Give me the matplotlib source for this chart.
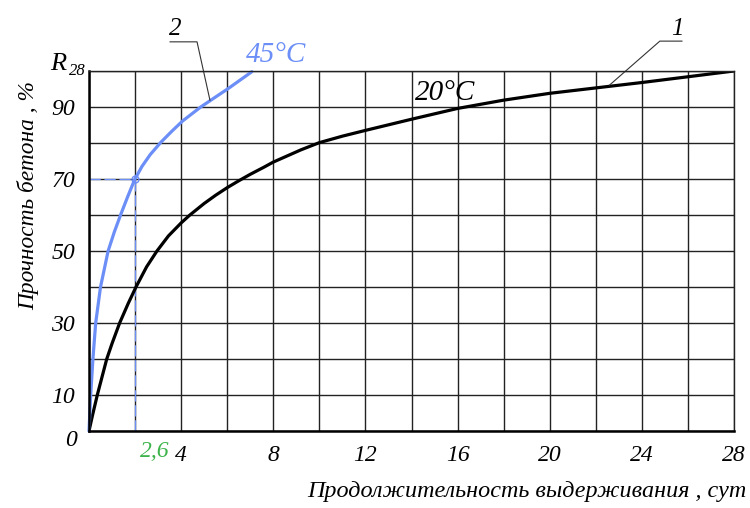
import numpy as np
import matplotlib
matplotlib.use('Agg')
import matplotlib.pyplot as plt

# curve 1 : 20 C  (days, % of R28)
t_20 = [0, 0.15, 0.36, 0.77, 1.0, 1.33, 1.7, 2.04, 2.5, 2.95, 3.45, 4.0, 4.38, 5.0, 5.5, 6.0, 6.5, 7.0,
        7.6, 8.0, 9.2, 10.0, 11.0, 12.0, 14.0, 16.0, 18.0, 20.0, 22.0, 24.0, 26.0, 28.0]
r_20 = [0, 4.3, 10, 20, 24.3, 30, 35.4, 40, 45.6, 50, 54.2, 57.8, 60, 63.2, 65.5, 67.6, 69.5, 71.3,
        73.3, 74.7, 78.1, 80.1, 81.9, 83.5, 86.6, 89.6, 91.9, 93.8, 95.3, 96.8, 98.4, 100]

# curve 2 : 45 C
t_45 = [0, 0.07, 0.17, 0.29, 0.5, 0.83, 1.1, 1.37, 1.68, 1.98, 2.3, 2.66, 3.12, 3.6, 4.06, 4.85, 5.5, 6.06, 7.07]
r_45 = [0, 9.7, 20, 30, 40, 50, 55.3, 60, 65.1, 69.8, 73.5, 76.8, 80.2, 83.3, 86.1, 90, 92.8, 95.2, 99.8]

t70 = 2.0    # where curve 2 reaches 70 % on the drawing
r70 = 70
t70_label = '2,6'

xgrid = np.arange(0, 29, 2)
ygrid = np.arange(0, 101, 10)
xlabels = ['4', '8', '12', '16', '20', '24', '28']
ylabels = ['10', '30', '50', '70', '90']

blue = '#6b8ef7'
green = '#3cb44b'
plt.rcParams['font.family'] = 'Liberation Serif'
plt.rcParams['font.style'] = 'italic'

fig = plt.figure(figsize=(7.5, 5.08), dpi=100)
ax = fig.add_axes([89/750, 1-431/508, (734-89)/750, (431-71)/508])

ax.set_xlim(0, 28)
ax.set_ylim(0, 100)
ax.set_xticks(xgrid)
ax.set_xticklabels([l if l in xlabels else '' for l in [str(v) for v in xgrid]])
ax.set_yticks(ygrid)
ax.set_yticklabels([l if l in ylabels else '' for l in [str(v) for v in ygrid]])
ax.tick_params(length=0, labelsize=17, pad=10)
for lab in ax.get_xticklabels() + ax.get_yticklabels():
    lab.set_fontstyle('italic')
ax.grid(True, color='#222222', lw=1.0)
ax.set_axisbelow(True)
for s in ['top', 'right']:
    ax.spines[s].set_linewidth(1.0)
    ax.spines[s].set_color('#222222')
for s in ['left', 'bottom']:
    ax.spines[s].set_linewidth(1.8)

# dashed guide to 70 %
ax.plot([0, t70], [r70, r70], color=blue, lw=0.9, dashes=(9, 3))
ax.plot([t70, t70], [0, r70], color=blue, lw=0.9, dashes=(9, 3))
ax.plot([t70], [r70], 'o', mfc='none', mec=blue, ms=5, mew=1)

ax.plot(t_20, r_20, color='black', lw=2.3, solid_capstyle='round', solid_joinstyle='round')
ax.plot(t_45, r_45, color=blue, lw=2.3, solid_capstyle='round', solid_joinstyle='round', clip_on=False)

ax.text(-0.8, -2.5, '0', fontsize=17, ha='center', va='center')
ax.text(2.85, -5.8, t70_label, fontsize=17, color=green, ha='center', va='center')
ax.text(-1.35, 102, 'R', fontsize=19, ha='center', va='center', clip_on=False)
ax.text(-0.5, 99.9, '28', fontsize=12, ha='center', va='center', clip_on=False)

ax.text(8.1, 104.4, '45°C', fontsize=21, color=blue, ha='center', va='center', clip_on=False)
ax.text(15.45, 94.0, '20°C', fontsize=21, ha='center', va='center')

# leaders
ax.plot([3.52, 4.69, 5.25], [108.1, 108.1, 91.9], color='#333333', lw=0.8, clip_on=False)
ax.text(3.75, 111.8, '2', fontsize=18, ha='center', va='center', clip_on=False)
ax.plot([25.74, 24.78, 22.6], [108.3, 108.3, 96.1], color='#333333', lw=0.8, clip_on=False)
ax.text(25.55, 111.8, '1', fontsize=18, ha='center', va='center', clip_on=False)

fig.text(746/750, 1-492/508, 'Продолжительность выдерживания , сут', fontsize=17.4,
         ha='right', va='center')
fig.text(28/750, 1-195/508, 'Прочность бетона , %', fontsize=16.8, rotation=90,
         ha='center', va='center')

fig.savefig('out.png', dpi=100)
